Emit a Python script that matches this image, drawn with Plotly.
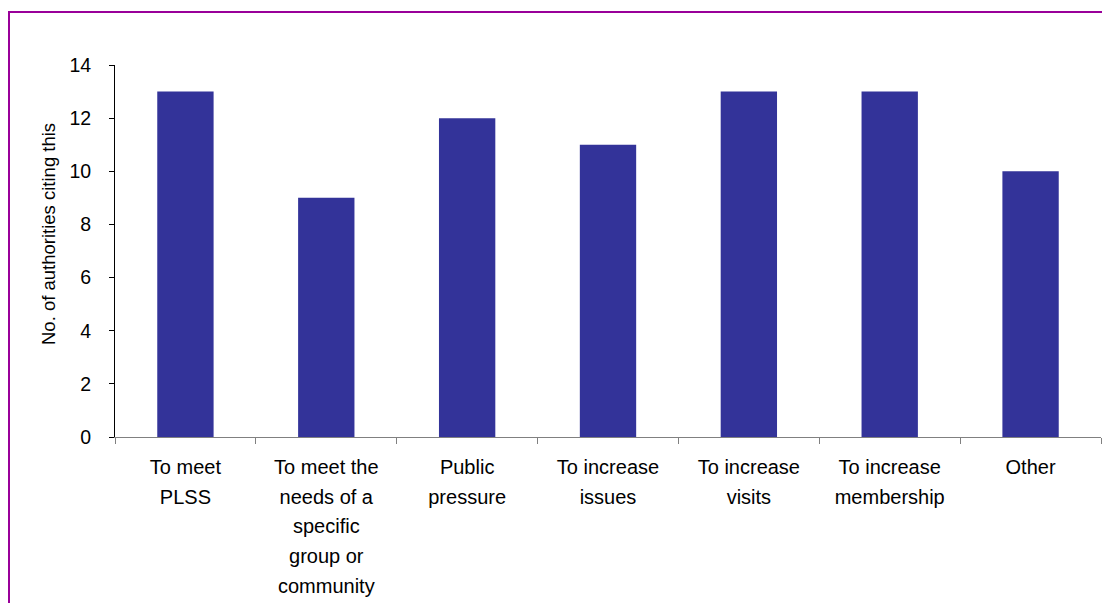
import plotly.graph_objects as go

categories = [
    "To meet<br>PLSS",
    "To meet the<br>needs of a<br>specific<br>group or<br>community",
    "Public<br>pressure",
    "To increase<br>issues",
    "To increase<br>visits",
    "To increase<br>membership",
    "Other",
]
values = [13, 9, 12, 11, 13, 13, 10]
y_title = "No. of authorities citing this"

# page has an 8px body margin, so the figure is sized to fill the rest
W, H = 1102, 595
L, R, T, B = 107, 9, 57, 166
PW, PH = W - L - R, H - T - B

def styled(label):
    return "<br>".join('<span style="font-size:20px">%s</span>' % p for p in label.split("<br>"))

fig = go.Figure(go.Bar(x=categories, y=values, marker=dict(color="#333399", line=dict(width=0))))

fig.update_layout(
    width=W, height=H,
    margin=dict(l=L, r=R, t=T, b=B, pad=0, autoexpand=False),
    paper_bgcolor="white", plot_bgcolor="white",
    bargap=0.6,
    showlegend=False,
    font=dict(family="Liberation Sans, Arial", color="black", size=18),
)
fig.update_xaxes(
    type="category",
    tickvals=categories,
    ticktext=[styled(c) for c in categories],
    tickfont=dict(size=23),
    showline=True, linecolor="#808080", linewidth=1,
    ticks="outside", tickson="boundaries", ticklen=6, tickcolor="#808080",
    showgrid=False, zeroline=False,
    ticklabelstandoff=8,
    automargin=False,
)
fig.update_yaxes(
    range=[0, 14], dtick=2, tick0=0,
    showline=True, linecolor="black", linewidth=1,
    ticks="outside", ticklen=5, tickcolor="black",
    showgrid=False, zeroline=False,
    tickfont=dict(size=19.5),
    ticklabelstandoff=14,
    automargin=False,
)
# y-axis title (placed like the original, a bit above the axis centre)
fig.add_annotation(text=y_title, textangle=-90, showarrow=False,
                   xref="paper", yref="paper",
                   x=(40 - L) / PW, y=(H - B - 226) / PH,
                   xanchor="center", yanchor="middle",
                   font=dict(size=18.5, color="black"))
# outer chart border (purple frame)
fig.add_shape(type="rect", xref="paper", yref="paper",
              x0=(1 - L) / PW, x1=(W + 20 - L) / PW,
              y0=(H - B - (H + 20)) / PH, y1=(H - B - 4) / PH,
              line=dict(color="#990099", width=2), fillcolor="rgba(0,0,0,0)", layer="below")

fig.write_html("out.html")
